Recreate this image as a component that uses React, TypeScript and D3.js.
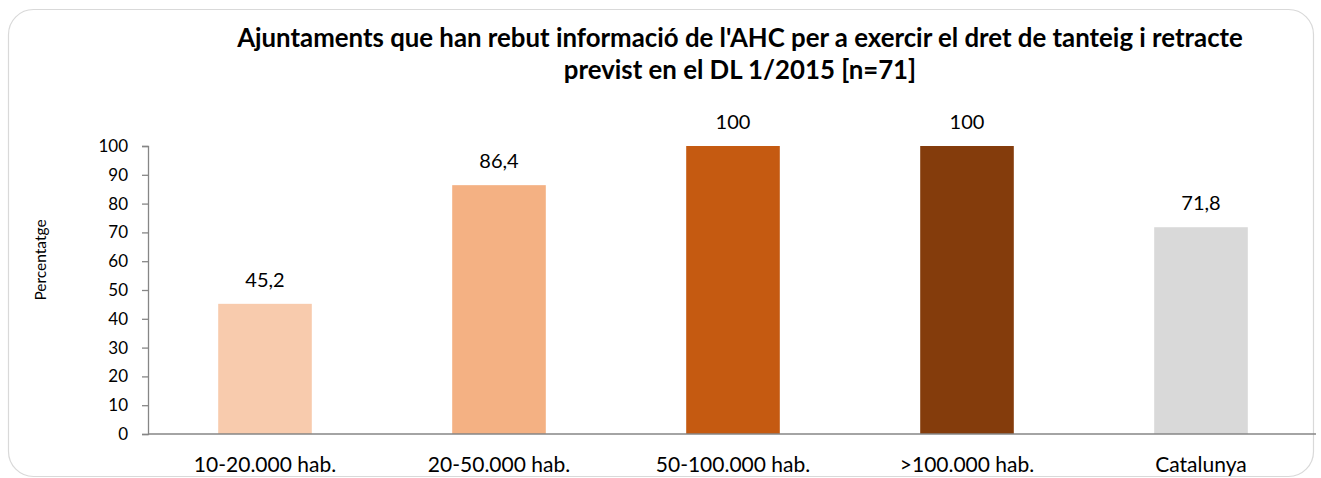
import React, { useEffect, useRef } from "react";
import * as d3 from "d3";

const categories = ["10-20.000 hab.", "20-50.000 hab.", "50-100.000 hab.", ">100.000 hab.", "Catalunya"];
const values = [45.2, 86.4, 100, 100, 71.8];
const barColors = ["#F8CBAD", "#F4B183", "#C55A11", "#843C0C", "#D9D9D9"];
const yTicks = [0, 10, 20, 30, 40, 50, 60, 70, 80, 90, 100];
const titleLines = [
  "Ajuntaments que han rebut informació de l'AHC per a exercir el dret de tanteig i retracte",
  "previst en el DL 1/2015 [n=71]",
];
const yAxisTitle = "Percentatge";

const W = 1321;
const H = 478;
const FONT = "Lato, 'Open Sans', sans-serif";

export default function App() {
  const ref = useRef<SVGSVGElement>(null);

  useEffect(() => {
    const svg = d3.select(ref.current);
    svg.selectAll("*").remove();

    svg
      .append("rect")
      .attr("x", 8.5)
      .attr("y", 9.5)
      .attr("width", 1305)
      .attr("height", 467)
      .attr("rx", 25)
      .attr("fill", "#fff")
      .attr("stroke", "#d9d9d9")
      .attr("stroke-width", 1.2);

    const x = d3.scaleBand<string>().domain(categories).range([148, 1318]).paddingInner(0.6).paddingOuter(0.3);
    const y = d3.scaleLinear().domain([0, 100]).range([434, 146]);

    // title
    const t = svg.append("g");
    titleLines.forEach((line, i) => {
      t.append("text")
        .attr("x", 740)
        .attr("y", 47 + i * 32)
        .attr("text-anchor", "middle")
        .attr("font-family", FONT)
        .attr("font-weight", "bold")
        .attr("font-size", 25.8)
        .attr("fill", "#000")
        .text(line);
    });

    // y axis
    const yAxis = d3.axisLeft(y).tickValues(yTicks).tickSize(6).tickPadding(14).tickFormat(d3.format("d"));
    const ga = svg.append("g").attr("transform", "translate(148,0)").call(yAxis);
    ga.select(".domain").attr("stroke", "#868686").attr("stroke-width", 1.3);
    ga.selectAll(".tick line").attr("stroke", "#868686").attr("stroke-width", 1.3);
    ga.selectAll(".tick text")
      .attr("font-family", FONT)
      .attr("font-size", 17)
      .attr("fill", "#000");

    // bars
    svg
      .append("g")
      .selectAll("rect")
      .data(values)
      .join("rect")
      .attr("x", (_, i) => x(categories[i])!)
      .attr("width", x.bandwidth())
      .attr("y", (d) => y(d))
      .attr("height", (d) => y(0) - y(d))
      .attr("fill", (_, i) => barColors[i]);

    // x axis line
    svg
      .append("line")
      .attr("x1", 148)
      .attr("x2", 1316)
      .attr("y1", y(0))
      .attr("y2", y(0))
      .attr("stroke", "#868686")
      .attr("stroke-width", 1.3);

    // value labels
    svg
      .append("g")
      .selectAll("text")
      .data(values)
      .join("text")
      .attr("x", (_, i) => x(categories[i])! + x.bandwidth() / 2)
      .attr("y", (d) => y(d) - 17)
      .attr("text-anchor", "middle")
      .attr("font-family", FONT)
      .attr("font-size", 20)
      .attr("fill", "#000")
      .text((d) => d3.format("")(d).replace(".", ","));

    // category labels
    svg
      .append("g")
      .selectAll("text")
      .data(categories)
      .join("text")
      .attr("x", (d) => x(d)! + x.bandwidth() / 2)
      .attr("y", y(0) + 38)
      .attr("text-anchor", "middle")
      .attr("font-family", FONT)
      .attr("font-size", 21)
      .attr("fill", "#000")
      .text((d) => d);

    // y axis title
    svg
      .append("text")
      .attr("transform", "translate(46,260) rotate(-90)")
      .attr("text-anchor", "middle")
      .attr("font-family", FONT)
      .attr("font-size", 15.5)
      .attr("fill", "#000")
      .text(yAxisTitle);
  }, []);

  return (
    <div style={{ position: "absolute", left: 0, top: 0 }}>
      <svg ref={ref} width={W} height={H} style={{ display: "block" }} />
    </div>
  );
}
